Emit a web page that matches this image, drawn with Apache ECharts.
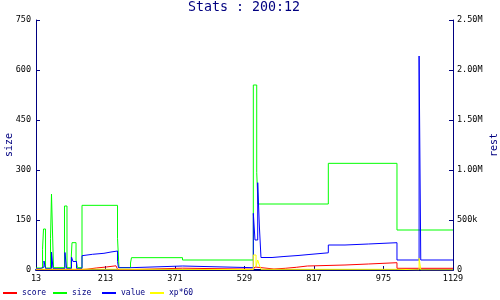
<!DOCTYPE html>
<html>
<head>
<meta charset="utf-8">
<script src="https://cdn.jsdelivr.net/npm/echarts@6/dist/echarts.min.js"></script>
<style>html,body{margin:0;padding:0;background:#fff}#c{width:500px;height:300px}</style>
</head>
<body>
<div id="c"></div>
<script>
// x positions are sample-index units: 0..600, one tick every 100 samples
const xTickLabels = ['13', '213', '371', '529', '817', '975', '1129'];
// size (left axis) : [x, value]
const sizeData = [[0,6],[9.4,62],[10.8,123],[13.7,6],[20.9,95],[22.3,228],[23.7,117],[25.2,7],[41.0,192],[44.6,7],[50.4,24],[51.8,82],[57.6,30],[59.7,7],[66.2,194],[117.3,95],[119.4,7],[136.0,21],[137.4,37],[210.8,30],[312.7,555],[317.6,292],[319.4,198],[420.6,320],[519.4,120],[600,120]];
// value (right axis, thousands)
const valueData = [[0,15],[7.2,30],[11.5,90],[13.7,15],[22.3,180],[24.5,15],[41.7,175],[43.9,15],[51.1,130],[53.2,85],[58.3,15],[66.2,143],[68.3,157],[81.3,167],[97.8,180],[107.9,190],[117.3,85],[118.7,23],[136.3,40],[211.1,23],[312.7,567],[315.1,300],[319.0,873],[321.3,450],[323.7,125],[339.6,135],[356.8,145],[377.0,155],[392.8,172],[420.6,250],[444.6,260],[478.1,273],[519.4,100],[551.2,2140],[553.6,100],[600,100]];
// score (right axis, thousands)
const scoreData = [[0,5],[66.2,8],[73.2,20],[86.6,30],[101.0,42],[115.1,52],[117.6,4],[136.0,18],[211.1,8],[312.7,8],[315.1,30],[317.6,10],[342.4,17],[358.6,27],[374.5,40],[390.4,50],[444.6,60],[478.1,73],[519.4,17],[600,17]];
// xp*60 (right axis, thousands)
const xpData = [[0,8],[118.7,4],[312.7,150],[316.6,35],[319.0,100],[321.3,50],[323.7,7],[519.4,2],[551.2,117],[553.6,2],[600,2]];

const NAVY = '#000080';
const MONO = 'DejaVu Sans Mono';
const k = arr => arr.map(p => [p[0], p[1] * 1000]);

function series(name, data, color, yIdx) {
  return {
    name, type: 'line', step: 'end', data, yAxisIndex: yIdx,
    showSymbol: false, symbol: 'none',
    lineStyle: { color, width: 1 }, itemStyle: { color },
    animation: false
  };
}
function legend(name, left) {
  return {
    data: [name], left, top: 289, icon: 'rect', itemWidth: 14, itemHeight: 2,
    padding: 0, textStyle: { color: NAVY, fontFamily: MONO, fontSize: 8 },
    selectedMode: false
  };
}

const chart = echarts.init(document.getElementById('c'), null, { renderer: 'canvas' });
chart.setOption({
  backgroundColor: '#fff',
  animation: false,
  title: {
    text: 'Stats : 200:12', left: 188, top: 1, padding: 0,
    textStyle: { color: NAVY, fontFamily: MONO, fontSize: 13.3, fontWeight: 'normal' }
  },
  legend: [legend('score', 3), legend('size', 53), legend('value', 102), legend('xp*60', 150)],
  grid: { left: 36, right: 47, top: 20, bottom: 30, containLabel: false, outerBoundsMode: 'none' },
  xAxis: {
    type: 'value', min: 0, max: 600, interval: 100,
    axisLine: { show: true, lineStyle: { color: NAVY, width: 2 } },
    axisTick: { show: true, inside: true, length: 4, lineStyle: { color: NAVY } },
    splitLine: { show: false },
    axisLabel: {
      color: '#000', fontFamily: MONO, fontSize: 8.5, margin: 4,
      formatter: v => xTickLabels[Math.round(v / 100)]
    }
  },
  yAxis: [
    {
      type: 'value', min: 0, max: 750, interval: 150, position: 'left',
      name: 'size', nameLocation: 'middle', nameGap: 22, nameMoveOverlap: false,
      nameTextStyle: { color: NAVY, fontFamily: MONO, fontSize: 10 },
      axisLine: { show: true, lineStyle: { color: NAVY } },
      axisTick: { show: true, inside: true, length: 4, lineStyle: { color: NAVY } },
      splitLine: { show: false },
      axisLabel: { color: '#000', fontFamily: MONO, fontSize: 8.5, margin: 5 }
    },
    {
      type: 'value', min: 0, max: 2500000, interval: 500000, position: 'right',
      name: 'rest', nameLocation: 'middle', nameGap: 36, nameMoveOverlap: false,
      nameTextStyle: { color: NAVY, fontFamily: MONO, fontSize: 10 },
      axisLine: { show: true, lineStyle: { color: NAVY } },
      axisTick: { show: true, inside: true, length: 4, lineStyle: { color: NAVY } },
      splitLine: { show: false },
      axisLabel: {
        color: '#000', fontFamily: MONO, fontSize: 8.5, margin: 4,
        formatter: v => v === 0 ? '0' : (v < 1000000 ? (v / 1000) + 'k' : (v / 1000000).toFixed(2) + 'M')
      }
    }
  ],
  series: [
    series('score', k(scoreData), '#ff0000', 1),
    series('size', sizeData, '#00ff00', 0),
    series('value', k(valueData), '#0000ff', 1),
    series('xp*60', k(xpData), '#ffff00', 1)
  ]
});
</script>
</body>
</html>
